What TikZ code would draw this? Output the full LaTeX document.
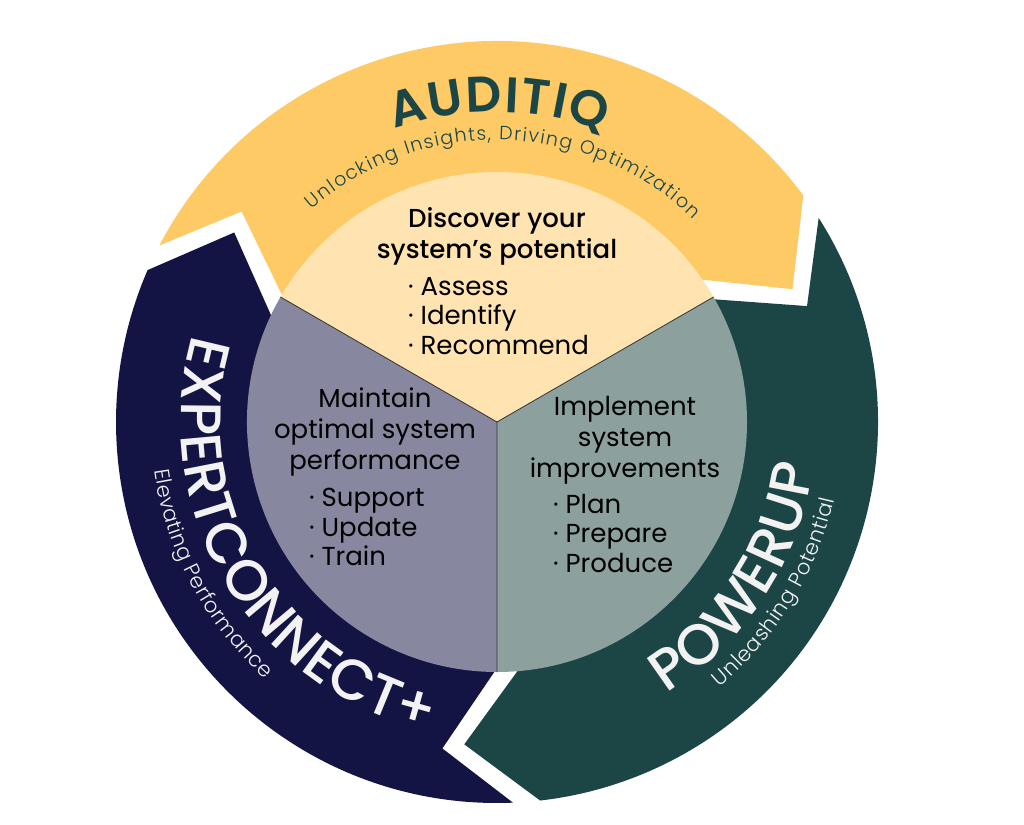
\documentclass[tikz,border=0pt]{standalone}
\usepackage{fontspec}
\setmainfont{Poppins}
\newfontfamily\semifont{Poppins SemiBold}
\newfontfamily\lightfont{Poppins Light}
\newfontfamily\mediumfont{Poppins Medium}
\usepackage{tikz}
\usetikzlibrary{decorations.text}
\definecolor{myellow}{HTML}{FECA66}
\definecolor{mlight}{HTML}{FFE4B1}
\definecolor{mnavy}{HTML}{141444}
\definecolor{mgreen}{HTML}{1C4646}
\definecolor{mpurple}{HTML}{87879F}
\definecolor{mgray}{HTML}{8CA09E}
\definecolor{mwhite}{HTML}{F2F2F2}
\tikzset{
  sectortext/.style={font=\fontsize{26}{31}\selectfont, align=center, inner sep=0pt},
  bullettext/.style={font=\fontsize{26}{29.5}\selectfont, align=left, inner sep=0pt, anchor=west},
  ringtext/.style n args={3}{decorate, decoration={text along path, text align={fit to path}, text color=#1, text={|#2|#3}}}
}

\begin{document}
\begin{tikzpicture}[x=1pt,y=1pt]
      \useasboundingbox (-497,-402) rectangle (527,422);
      \fill[white] (-497,-402) rectangle (527,422);

      \foreach \t/\c in {150/myellow, 270/mnavy, 30/mgreen}
        \fill[\c] (\t:246) -- ({\t-9.5}:331) -- ({\t+2.4}:381)
          arc[start angle=\t+2.4, end angle=\t-113.5, radius=381]
          -- ({\t-125.8}:324) -- ({\t-114.5}:246)
          arc[start angle=\t-114.5, end angle=\t, radius=246] -- cycle;

      \coordinate (hub) at (0,0);
      \fill[mlight] (hub) -- (30:250) arc[start angle=30, end angle=150, radius=250] -- cycle;
      \fill[mpurple] (hub) -- (150:250) arc[start angle=150, end angle=270, radius=250] -- cycle;
      \fill[mgray] (hub) -- (270:250) arc[start angle=270, end angle=390, radius=250] -- cycle;
      \draw[line width=0.8pt, black!80] (hub) -- (30:250) (hub) -- (150:250) (hub) -- (270:250);

      \node[sectortext, font=\mediumfont\fontsize{26}{31}\selectfont] (discover) at (0,186) {Discover your\\system’s potential};
      \node[bullettext] (discoverlist) at (-89,106) {· Assess\\· Identify\\· Recommend};
      \node[sectortext] (maintain) at (-122,-10) {Maintain\\optimal system\\performance};
      \node[bullettext] (maintainlist) at (-188,-105) {· Support\\· Update\\· Train};
      \node[sectortext] (implement) at (128,-18) {Implement\\system\\improvements};
      \node[bullettext] (implementlist) at (56,-111) {· Plan\\· Prepare\\· Produce};

      \path[ringtext={mgreen}{\semifont\fontsize{50}{50}\selectfont}{AUDITIQ}] (109.3:310) arc[start angle=109.3, end angle=70, radius=310];
      \path[ringtext={mgreen}{\lightfont\fontsize{19}{19}\selectfont}{Unlocking Insights, Driving Optimization}] (131:282) arc[start angle=131, end angle=46, radius=282];
      \path[ringtext={mwhite}{\mediumfont\fontsize{57}{57}\selectfont}{EXPERTCONNECT+}] (164:316) arc[start angle=164, end angle=258, radius=316];
      \path[ringtext={mwhite}{\lightfont\fontsize{21}{21}\selectfont}{Elevating Performance}] (188:346) arc[start angle=188, end angle=228, radius=346];
      \path[ringtext={mwhite}{\mediumfont\fontsize{57}{57}\selectfont}{POWERUP}] (-58:320) arc[start angle=-58, end angle=-8, radius=320];
      \path[ringtext={mwhite}{\lightfont\fontsize{21}{21}\selectfont}{Unleashing Potential}] (-50:346) arc[start angle=-50, end angle=-13, radius=346];
\end{tikzpicture}
\end{document}
